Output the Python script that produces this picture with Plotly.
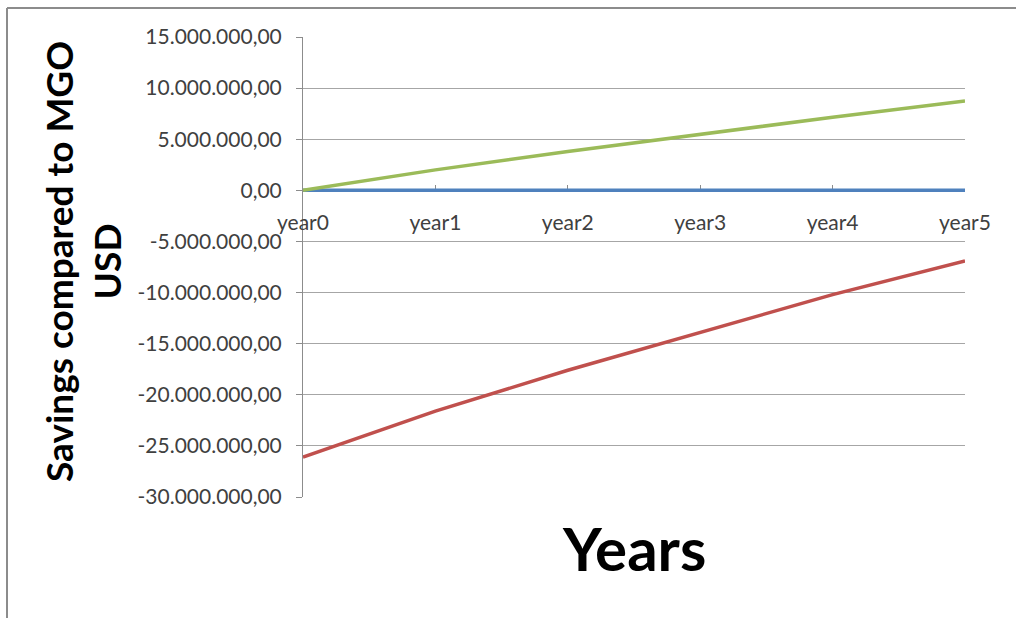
import plotly.graph_objects as go

years = ["year0", "year1", "year2", "year3", "year4", "year5"]
blue_vals = [0, 0, 0, 0, 0, 0]
red_vals = [-26100000, -21600000, -17600000, -13900000, -10200000, -6900000]
green_vals = [0, 2000000, 3800000, 5500000, 7150000, 8750000]
y_ticks = [15000000, 10000000, 5000000, 0, -5000000, -10000000, -15000000,
           -20000000, -25000000, -30000000]


def fmt(v):
    s = f"{abs(v):,.2f}"
    s = s.replace(",", "X").replace(".", ",").replace("X", ".")
    return ("-" if v < 0 else "") + s


y_text = [fmt(v) for v in y_ticks]

W, H = 1016, 618
L, R, T, B = 303, 51, 37, 121
pw, ph = W - L - R, H - T - B


def px(x):
    return (x - L) / pw


def py(y):
    return (H - B - y) / ph


fig = go.Figure()
fig.add_trace(go.Scatter(x=years, y=blue_vals, mode="lines",
                         line=dict(color="#4F81BD", width=3.5), name="s1"))
fig.add_trace(go.Scatter(x=years, y=red_vals, mode="lines",
                         line=dict(color="#C0504D", width=3.5), name="s2"))
fig.add_trace(go.Scatter(x=years, y=green_vals, mode="lines",
                         line=dict(color="#9BBB59", width=3.5), name="s3"))

font_family = "Lato, 'Open Sans', sans-serif"

fig.update_layout(
    width=W, height=H,
    margin=dict(l=L, r=R, t=T, b=B),
    paper_bgcolor="white", plot_bgcolor="white",
    showlegend=False,
    font=dict(family=font_family, color="#404040"),
    xaxis=dict(
        type="category", range=[0, 5],
        anchor="free", position=2 / 3,
        showgrid=False, zeroline=False,
        showline=True, linecolor="#8c8c8c", linewidth=1,
        ticks="inside", ticklen=5, tickcolor="#8c8c8c",
        ticklabelstandoff=13,
        layer="below traces",
        tickfont=dict(size=21, color="#404040", family=font_family),
    ),
    yaxis=dict(
        range=[-30000000, 15000000],
        tickvals=y_ticks, ticktext=y_text,
        showgrid=True, gridcolor="#a6a6a6", gridwidth=1.2,
        zeroline=False,
        showline=True, linecolor="#8c8c8c", linewidth=1,
        ticks="outside", ticklen=6, tickcolor="#8c8c8c",
        ticklabelstandoff=10,
        layer="below traces",
        tickfont=dict(size=21, color="#404040", family=font_family),
    ),
    annotations=[
        dict(text="<b>Savings compared to MGO<br>USD</b>", textangle=-90,
             xref="paper", yref="paper", x=px(82), y=py(262),
             xanchor="center", yanchor="middle", showarrow=False,
             font=dict(size=37, color="black", family=font_family)),
        dict(text="<b>Years</b>",
             xref="paper", yref="paper", x=px(634), y=py(548),
             xanchor="center", yanchor="middle", showarrow=False,
             font=dict(size=60, color="black", family=font_family)),
    ],
    shapes=[
        dict(type="line", xref="paper", yref="paper",
             x0=px(7), x1=px(1016), y0=py(8), y1=py(8),
             line=dict(color="#8c8c8c", width=2)),
        dict(type="line", xref="paper", yref="paper",
             x0=px(7), x1=px(7), y0=py(8), y1=py(618),
             line=dict(color="#8c8c8c", width=2)),
    ],
)

fig.write_html("out.html")
